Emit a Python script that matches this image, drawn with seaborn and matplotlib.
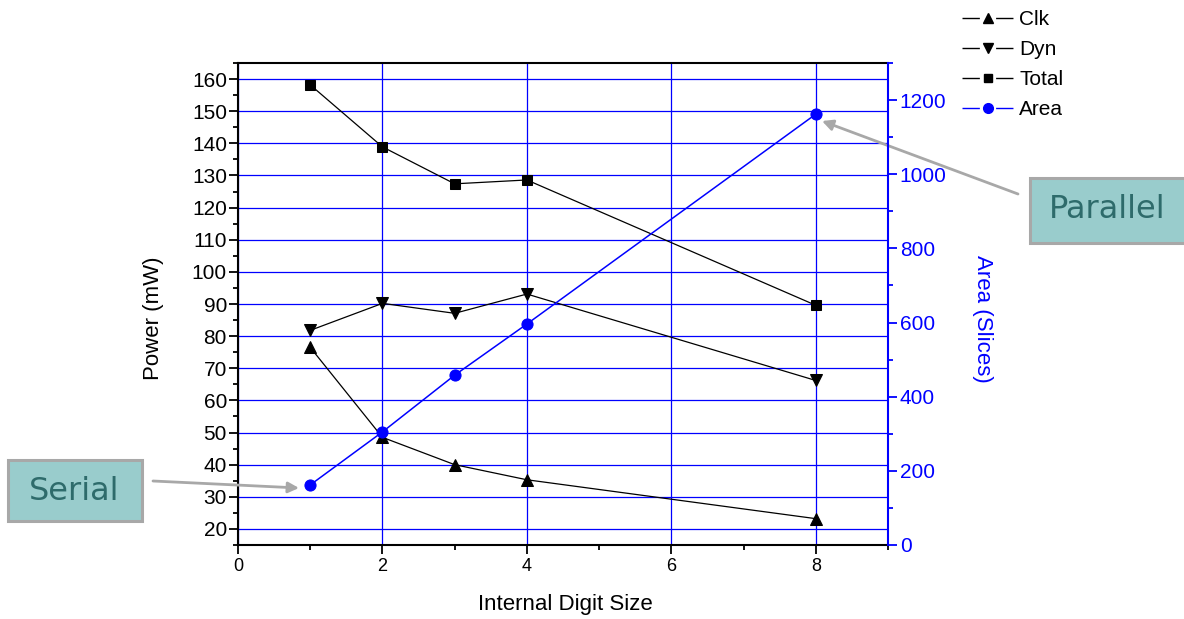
import matplotlib
matplotlib.use("Agg")
import matplotlib.pyplot as plt
import seaborn as sns
import pandas as pd
from matplotlib.ticker import MultipleLocator
from matplotlib.lines import Line2D
from matplotlib.patches import Rectangle

sns.set_theme(style="white")
plt.rcParams['font.family'] = ['Liberation Sans', 'DejaVu Sans']
plt.rcParams.update({"text.color": "black", "axes.labelcolor": "black",
                     "xtick.color": "black", "ytick.color": "black"})

digit_size = [1, 2, 3, 4, 8]
clk = [76.5, 48.5, 40.0, 35.3, 23.2]
dyn = [81.8, 90.2, 87.1, 93.1, 66.2]
total = [158.2, 138.9, 127.4, 128.6, 89.6]
area = [162, 305, 458, 596, 1162]
series_names = ["Clk", "Dyn", "Total", "Area"]

df = pd.DataFrame({"x": digit_size, "Clk": clk, "Dyn": dyn, "Total": total, "Area": area})

W, H = 1184, 619
def fx(px):
    return px / W
def fy(py):
    return 1 - py / H

fig = plt.figure(figsize=(11.84, 6.19), dpi=100)
ax = fig.add_axes([fx(238), fy(545), (888-238)/W, (545-63)/H])
ax2 = ax.twinx()

blue = "#0000FF"
ax.set_xlim(0, 9)
ax.set_ylim(15, 165)
ax.xaxis.set_major_locator(MultipleLocator(2))
ax.xaxis.set_minor_locator(MultipleLocator(1))
ax.yaxis.set_major_locator(MultipleLocator(10))
ax.yaxis.set_minor_locator(MultipleLocator(5))
ax.grid(True, which="major", color=blue, lw=0.9)
ax.set_axisbelow(True)

sns.lineplot(data=df, x="x", y="Clk", ax=ax, color="black", marker="^", markersize=9,
             markeredgecolor="black", lw=0.9)
sns.lineplot(data=df, x="x", y="Dyn", ax=ax, color="black", marker="v", markersize=9,
             markeredgecolor="black", lw=0.9)
sns.lineplot(data=df, x="x", y="Total", ax=ax, color="black", marker="s", markersize=7,
             markeredgecolor="black", lw=0.9)
sns.lineplot(data=df, x="x", y="Area", ax=ax2, color=blue, marker="o", markersize=8,
             markeredgecolor=blue, lw=1.1)

ax2.set_ylim(0, 1300)
ax2.yaxis.set_major_locator(MultipleLocator(200))
ax2.yaxis.set_minor_locator(MultipleLocator(100))
ax2.grid(False)

for sp in ["left", "bottom", "top"]:
    ax.spines[sp].set_color("black")
    ax.spines[sp].set_linewidth(1.5)
ax.spines["right"].set_visible(False)
for sp in ["left", "bottom", "top"]:
    ax2.spines[sp].set_visible(False)
ax2.spines["right"].set_color(blue)
ax2.spines["right"].set_linewidth(1.5)

ax.tick_params(axis="y", which="major", direction="out", length=6.5, width=1.3, color="black",
               labelsize=15, left=True, pad=1.5)
ax.tick_params(axis="y", which="minor", direction="out", length=3.5, width=1.3, color="black", left=True)
ax.tick_params(axis="x", which="major", direction="out", length=6.5, width=1.3, color="black",
               labelsize=13, bottom=True, pad=3)
ax.tick_params(axis="x", which="minor", direction="out", length=3.5, width=1.3, color="black", bottom=True)
ax2.tick_params(axis="y", which="major", direction="out", length=6.5, width=1.3, color=blue,
                labelcolor=blue, labelsize=15, right=True, pad=2)
ax2.tick_params(axis="y", which="minor", direction="out", length=3.5, width=1.3, color=blue, right=True)

ax.set_xlabel("Internal Digit Size", fontsize=16)
ax.xaxis.set_label_coords((565-238)/650, -(594-545)/482)
ax.set_ylabel("Power (mW)", fontsize=16)
ax.yaxis.set_label_coords((164-238)/650, (545-318)/482)
ax2.set_ylabel("Area (Slices)", fontsize=16, color=blue, rotation=270, va="center")
ax2.yaxis.set_label_coords((982-238)/650, (545-319)/482)

handles = [
    Line2D([], [], color="black", marker="^", markersize=7, lw=1, dashes=(12.5, 11.7)),
    Line2D([], [], color="black", marker="v", markersize=7, lw=1, dashes=(12.5, 11.7)),
    Line2D([], [], color="black", marker="s", markersize=6, lw=1, dashes=(12.5, 11.7)),
    Line2D([], [], color=blue, marker="o", markersize=7, lw=1, dashes=(12.5, 11.7)),
]
fig.legend(handles, series_names, loc="upper left", bbox_to_anchor=(fx(962), fy(10)),
           frameon=False, fontsize=15, handlelength=2.45, handletextpad=0.3,
           labelspacing=0.53, borderaxespad=0, borderpad=0)

box_fc = "#99CCCC"
box_ec = "#A8A8A8"
txt_col = "#2E6B6B"
fig.patches.append(Rectangle((fx(8), fy(521)), (142-8)/W, (521-460)/H,
                             transform=fig.transFigure, fc=box_fc, ec=box_ec, lw=2.2))
fig.patches.append(Rectangle((fx(1030), fy(243)), (1195-1030)/W, (243-178)/H,
                             transform=fig.transFigure, fc=box_fc, ec=box_ec, lw=2.2))
fig.text(fx(74), fy(492), "Serial", ha="center", va="center", fontsize=23,
         color=txt_col, family="DejaVu Sans")
fig.text(fx(1107), fy(209), "Parallel", ha="center", va="center", fontsize=23,
         color=txt_col, family="DejaVu Sans")

arrow_style = dict(arrowstyle="-|>", color="#A8A8A8", lw=2, mutation_scale=16,
                   shrinkA=0, shrinkB=0)
ax.annotate("", xy=(fx(299), fy(488)), xycoords="figure fraction",
            xytext=(fx(153), fy(481)), textcoords="figure fraction", arrowprops=arrow_style)
ax.annotate("", xy=(fx(822), fy(121)), xycoords="figure fraction",
            xytext=(fx(1018), fy(194)), textcoords="figure fraction", arrowprops=arrow_style)

fig.savefig("out.png", dpi=100)
